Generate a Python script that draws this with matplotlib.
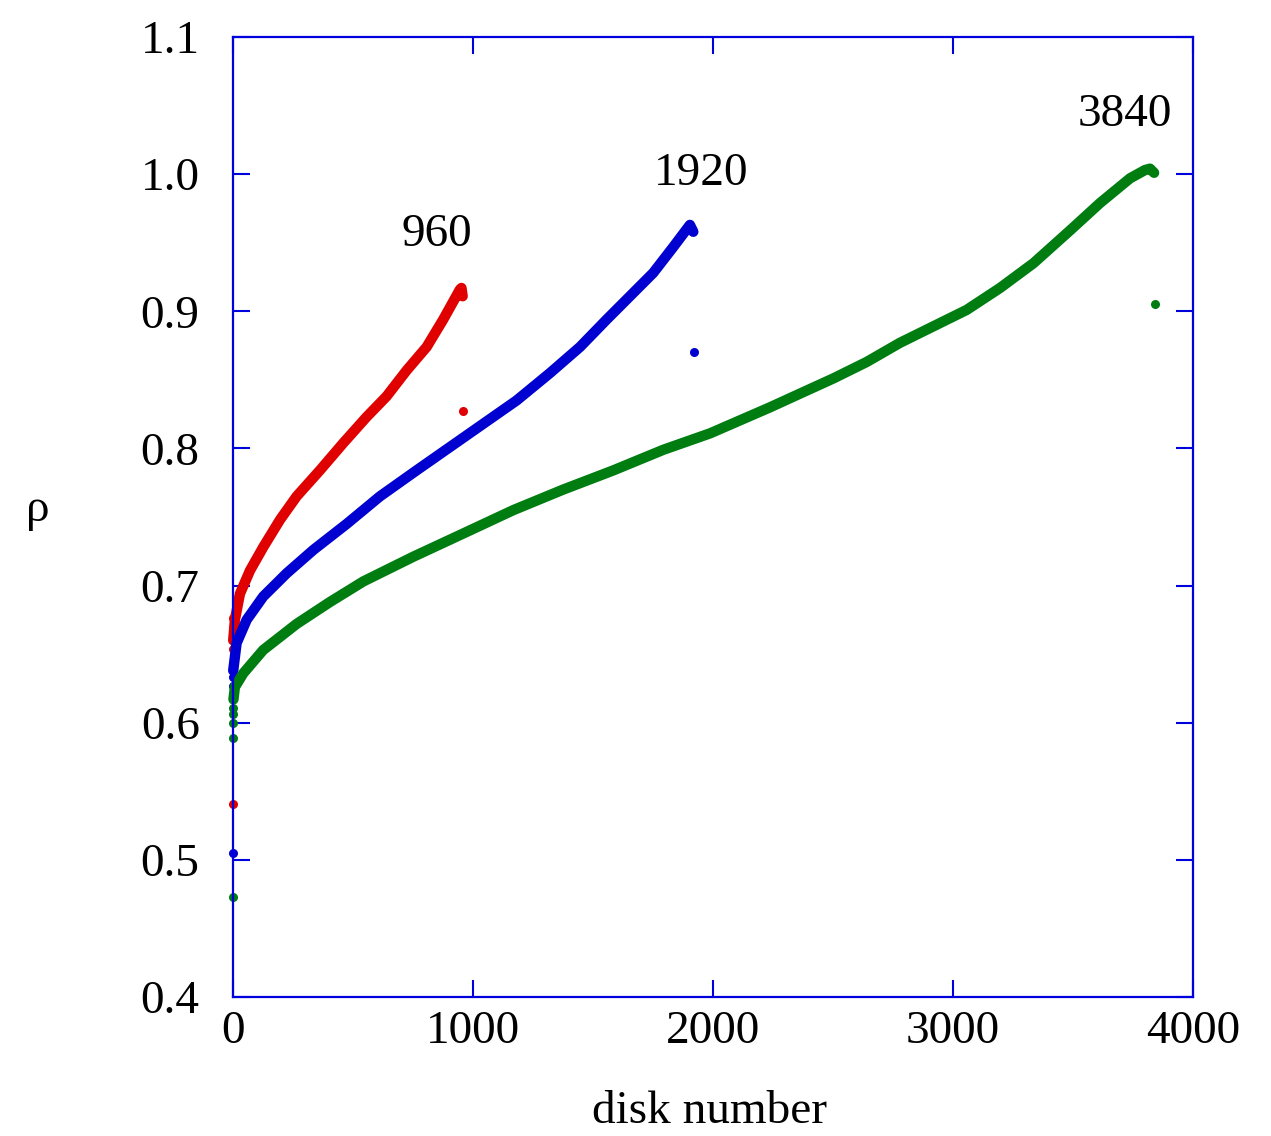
import matplotlib
matplotlib.use("Agg")
import matplotlib.pyplot as plt

plt.rcParams['font.family'] = ['Liberation Serif', 'DejaVu Serif']

# main chains (disk number, rho)
red_x = [1, 8, 29, 71, 126, 196, 265, 362, 460, 557, 640, 724, 807, 876, 946, 952, 957]
red_y = [0.660, 0.675, 0.694, 0.711, 0.728, 0.748, 0.765, 0.784, 0.804, 0.823, 0.838, 0.857, 0.874, 0.894, 0.916, 0.917, 0.911]
red_start = [0.541, 0.654, 0.662, 0.669, 0.676]
red_last = (960, 0.827)

blue_x = [1, 15, 57, 126, 224, 335, 474, 612, 765, 904, 1043, 1182, 1321, 1446, 1557, 1654,
          1751, 1835, 1904, 1918]
blue_y = [0.638, 0.658, 0.675, 0.692, 0.709, 0.726, 0.745, 0.765, 0.784, 0.801, 0.818, 0.835, 0.855, 0.874, 0.894, 0.911,
          0.928, 0.947, 0.963, 0.958]
blue_start = [0.505, 0.619, 0.627, 0.633, 0.640]
blue_last = (1920, 0.870)

green_x = [2, 8, 43, 126, 265, 404, 543, 751, 960, 1168, 1376, 1585, 1793, 1988, 2238, 2363, 2501,
           2640, 2779, 2918, 3057, 3196, 3335, 3488, 3613, 3738, 3800, 3821, 3838]
green_y = [0.617, 0.626, 0.636, 0.653, 0.672, 0.688, 0.703, 0.721, 0.738, 0.755, 0.770, 0.784, 0.799, 0.811, 0.830, 0.840, 0.851,
           0.863, 0.877, 0.889, 0.901, 0.917, 0.935, 0.959, 0.979, 0.997, 1.003, 1.004, 1.001]
green_start = [0.473, 0.589, 0.600, 0.606, 0.611]
green_last = (3840, 0.905)

labels = ["960", "1920", "3840"]
label_pos = [(850, 0.956), (1950, 1.000), (3717, 1.043)]

colors = ['#e00000', '#0000d0', '#007d10']
axis_col = '#0000dd'

fig = plt.figure(figsize=(12.71, 11.36), dpi=100)
ax = fig.add_axes([0.1833, 0.1224, 0.7553, 0.8450])

series = [(red_x, red_y, red_start, red_last),
          (blue_x, blue_y, blue_start, blue_last),
          (green_x, green_y, green_start, green_last)]
for (xs, ys, st, last), c in zip(series, colors):
    ax.plot(xs, ys, '-', color=c, lw=7.5, solid_capstyle='round', solid_joinstyle='round',
            clip_on=False)
    ax.plot([0] * len(st), st, 'o', color=c, ms=6.5, mec='none', clip_on=False)
    ax.plot([last[0]], [last[1]], 'o', color=c, ms=6.5, mec='none', clip_on=False)

for t, (x, y) in zip(labels, label_pos):
    ax.text(x, y, t, fontsize=34, ha='center', va='center')

ax.set_xlim(0, 4000)
ax.set_ylim(0.4, 1.1)
ax.set_xticks([0, 1000, 2000, 3000, 4000])
ax.set_yticks([0.4, 0.5, 0.6, 0.7, 0.8, 0.9, 1.0, 1.1])
ax.set_yticklabels(["0.4", "0.5", "0.6", "0.7", "0.8", "0.9", "1.0", "1.1"])
ax.tick_params(direction='in', length=12, width=1.5, color=axis_col, labelsize=34,
               top=True, right=True)
ax.tick_params(axis='y', pad=24)
ax.tick_params(axis='x', pad=10)
for s in ax.spines.values():
    s.set_color(axis_col)
    s.set_linewidth(1.6)

fig.text(38 / 1271, 1 - 510 / 1136, "ρ", fontsize=34, ha='center', va='center')
fig.text(710 / 1271, 1 - 1112 / 1136, "disk number", fontsize=34, ha='center', va='center')

fig.savefig("out.png", dpi=100)
